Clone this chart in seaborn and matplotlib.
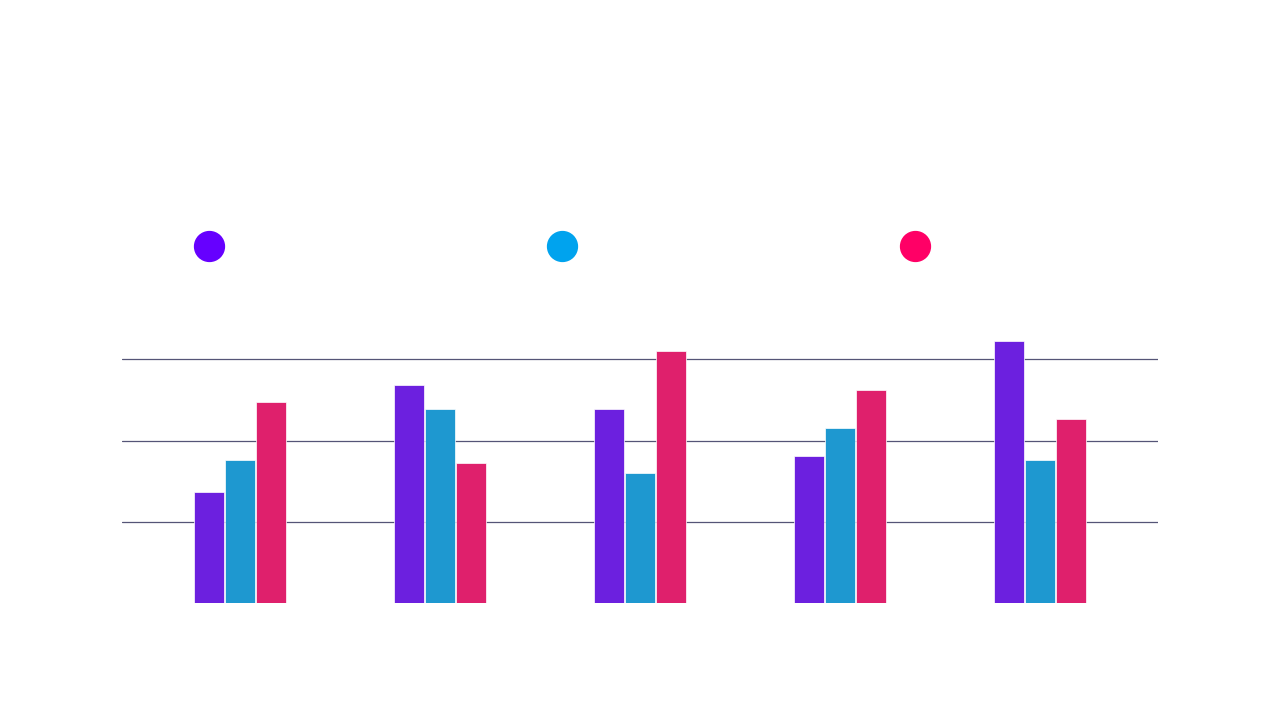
import matplotlib
matplotlib.use("Agg")
import matplotlib.pyplot as plt
import seaborn as sns
import pandas as pd
from matplotlib.lines import Line2D

categories = ["A", "B", "C", "D", "E"]
series_names = ["S1", "S2", "S3"]
s1 = [1.37, 2.68, 2.39, 1.81, 3.22]
s2 = [1.76, 2.39, 1.60, 2.15, 1.76]
s3 = [2.47, 1.72, 3.10, 2.62, 2.26]
colors = ["#6600ff", "#00a3ee", "#ff0066"]

rows = []
for name, vals in zip(series_names, [s1, s2, s3]):
    for c, v in zip(categories, vals):
        rows.append({"cat": c, "series": name, "value": v})
df = pd.DataFrame(rows)

sns.set_style("white")
fig = plt.figure(figsize=(12.8, 7.2), dpi=100)
ax = fig.add_axes([122/1280, 117/720, 1036/1280, 325/720])
sns.barplot(data=df, x="cat", y="value", hue="series", palette=colors,
            width=0.465, gap=0.03, edgecolor="white", linewidth=0.5,
            legend=False, ax=ax, zorder=3)
ax.set_xlim(-0.59, 4.59)
ax.set_ylim(0, 4)
for y in [1, 2, 3]:
    ax.axhline(y, color="#555577", linewidth=0.9, zorder=1)
for s in ax.spines.values():
    s.set_visible(False)
ax.set_xticks([]); ax.set_yticks([])
ax.set_xlabel(""); ax.set_ylabel("")

for x, c in zip([209, 562, 915], colors):
    fig.add_artist(Line2D([x/1280], [1 - 246/720], marker="o", markersize=21.5,
                          color=c, linestyle="none", transform=fig.transFigure))

fig.savefig("out.png", dpi=100)
